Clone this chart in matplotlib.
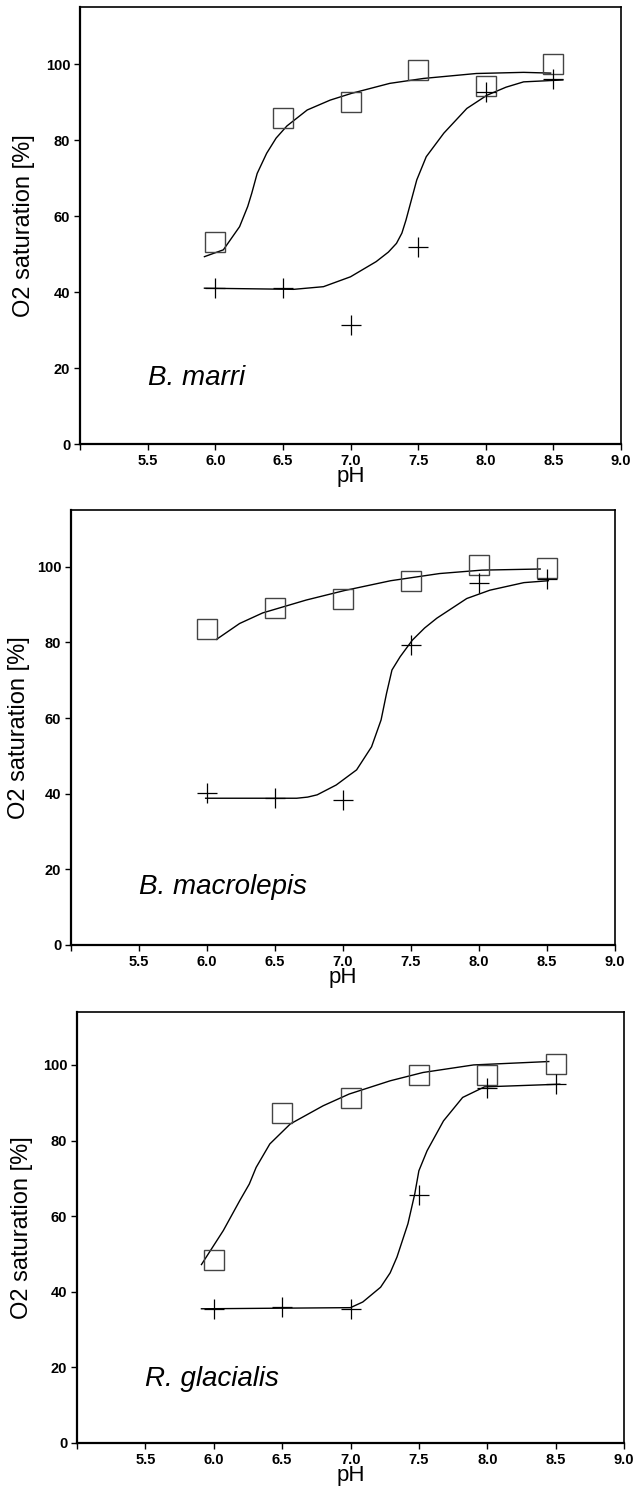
import matplotlib
matplotlib.use("Agg")
import matplotlib.pyplot as plt

plt.rcParams['font.family'] = ['Liberation Sans', 'DejaVu Sans']

ph = [6.0, 6.5, 7.0, 7.5, 8.0, 8.5]

# B. marri
marri_sq = [53.2, 85.9, 90.1, 98.4, 94.3, 99.9]
marri_pl = [41.0, 41.0, 31.3, 51.8, 92.7, 96.0]
marri_sq_fit_x = [5.92, 6.06, 6.18, 6.24, 6.27, 6.31, 6.38, 6.45, 6.53, 6.68, 6.85, 7.01, 7.29, 7.54, 7.93, 8.28, 8.48]
marri_sq_fit_y = [49.3, 51.1, 57.2, 62.5, 66.0, 71.2, 76.5, 80.5, 83.7, 87.9, 90.5, 92.3, 94.9, 96.2, 97.5, 97.8, 97.6]
marri_pl_fit_x = [5.92, 6.58, 6.80, 7.00, 7.19, 7.28, 7.34, 7.38, 7.41, 7.45, 7.49, 7.56, 7.69, 7.86, 8.01, 8.15, 8.28, 8.57]
marri_pl_fit_y = [41.0, 40.7, 41.4, 44.0, 48.0, 50.5, 52.8, 55.5, 58.9, 64.2, 69.5, 75.6, 81.8, 88.3, 91.8, 93.9, 95.3, 95.8]

# B. macrolepis
macro_sq = [83.5, 89.2, 91.4, 96.2, 100.4, 99.6]
macro_pl = [40.3, 38.8, 38.3, 79.3, 95.6, 96.7]
macro_sq_fit_x = [6.07, 6.24, 6.41, 6.73, 7.01, 7.35, 7.71, 8.02, 8.45]
macro_sq_fit_y = [80.8, 85.0, 87.8, 91.2, 93.7, 96.3, 98.2, 99.1, 99.4]
macro_pl_fit_x = [5.99, 6.66, 6.74, 6.81, 6.95, 7.10, 7.21, 7.28, 7.32, 7.36, 7.42, 7.51, 7.60, 7.69, 7.91, 8.08, 8.33, 8.51]
macro_pl_fit_y = [38.8, 38.8, 39.1, 39.7, 42.3, 46.3, 52.4, 59.5, 66.5, 72.7, 76.2, 80.6, 83.8, 86.4, 91.6, 93.8, 95.8, 96.3]

# R. glacialis
glac_sq = [48.3, 87.4, 91.2, 97.4, 97.4, 100.2]
glac_pl = [35.5, 36.1, 35.5, 65.6, 94.0, 94.9]
glac_sq_fit_x = [5.91, 6.07, 6.19, 6.26, 6.31, 6.41, 6.56, 6.80, 6.99, 7.29, 7.53, 7.90, 8.45]
glac_sq_fit_y = [47.2, 56.2, 64.1, 68.5, 72.9, 79.1, 84.4, 89.2, 92.3, 95.8, 98.0, 100.0, 100.9]
glac_pl_fit_x = [5.91, 7.00, 7.09, 7.22, 7.29, 7.34, 7.42, 7.47, 7.50, 7.56, 7.68, 7.82, 7.98, 8.53]
glac_pl_fit_y = [35.5, 35.8, 37.3, 41.2, 45.0, 49.2, 58.0, 65.9, 72.0, 77.3, 85.2, 91.4, 94.2, 94.9]

species = ["B. marri", "B. macrolepis", "R. glacialis"]
label_y = [17.4, 15.3, 16.8]
ymax = [115, 115, 114]

x_ticks = [5.0, 5.5, 6.0, 6.5, 7.0, 7.5, 8.0, 8.5, 9.0]
x_ticklabels = ["", "5.5", "6.0", "6.5", "7.0", "7.5", "8.0", "8.5", "9.0"]
y_ticks = [0, 20, 40, 60, 80, 100]

panels = [
    (marri_sq, marri_pl, marri_sq_fit_x, marri_sq_fit_y, marri_pl_fit_x, marri_pl_fit_y),
    (macro_sq, macro_pl, macro_sq_fit_x, macro_sq_fit_y, macro_pl_fit_x, macro_pl_fit_y),
    (glac_sq, glac_pl, glac_sq_fit_x, glac_sq_fit_y, glac_pl_fit_x, glac_pl_fit_y),
]

# axes boxes in pixels: left, right, top, bottom
W, H = 633, 1489
boxes = [(80, 621, 7, 444), (71, 615, 510, 945), (77, 624, 1012, 1443)]
ylabel_px = [24, 19, 22]  # x centre of the y label, pixels

fig = plt.figure(figsize=(W / 100, H / 100), dpi=100)

for i, (sq, pl, sfx, sfy, pfx, pfy) in enumerate(panels):
    l, r, t, b = boxes[i]
    ax = fig.add_axes([l / W, (H - b) / H, (r - l) / W, (b - t) / H])

    ax.plot(sfx, sfy, color='black', lw=1.0, solid_joinstyle='round')
    ax.plot(pfx, pfy, color='black', lw=1.0, solid_joinstyle='round')
    ax.plot(ph, sq, linestyle='none', marker='s', markersize=14,
            mfc='none', mec='#444444', mew=1.0)
    ax.plot(ph, pl, linestyle='none', marker='+', markersize=14,
            color='black', mew=0.9)

    ax.text(5.5, label_y[i], species[i], fontsize=20, style='italic',
            va='center', ha='left')

    ax.set_xlim(5.0, 9.0)
    ax.set_ylim(0, ymax[i])
    ax.set_xticks(x_ticks)
    ax.set_xticklabels(x_ticklabels)
    ax.set_yticks(y_ticks)
    ax.tick_params(direction='out', length=4, width=1, labelsize=10.5,
                   top=False, right=False, pad=3)
    for lab in ax.get_xticklabels() + ax.get_yticklabels():
        lab.set_fontweight('bold')
    for s in ['left', 'bottom']:
        ax.spines[s].set_linewidth(1.6)
    for s in ['top', 'right']:
        ax.spines[s].set_linewidth(1.2)
    ax.set_xlabel('pH', fontsize=16, labelpad=-1)
    ax.set_ylabel('O2 saturation [%]', fontsize=17, va='center')
    ax.yaxis.set_label_coords((ylabel_px[i] - l) / (r - l), 0.5)

fig.savefig('out.png', dpi=100)
